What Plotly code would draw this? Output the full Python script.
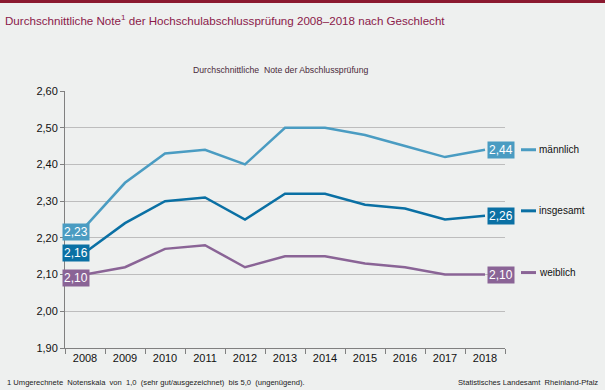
import plotly.graph_objects as go

years = ["2008", "2009", "2010", "2011", "2012", "2013", "2014", "2015", "2016", "2017", "2018"]
maennlich = [2.23, 2.35, 2.43, 2.44, 2.40, 2.50, 2.50, 2.48, 2.45, 2.42, 2.44]
insgesamt = [2.16, 2.24, 2.30, 2.31, 2.25, 2.32, 2.32, 2.29, 2.28, 2.25, 2.26]
weiblich = [2.10, 2.12, 2.17, 2.18, 2.12, 2.15, 2.15, 2.13, 2.12, 2.10, 2.10]
series_names = ["männlich", "insgesamt", "weiblich"]
y_ticks = [1.9, 2.0, 2.1, 2.2, 2.3, 2.4, 2.5, 2.6]

colors = {"männlich": "#4a9cc2", "insgesamt": "#0a70a4", "weiblich": "#8a6496"}
data = {"männlich": maennlich, "insgesamt": insgesamt, "weiblich": weiblich}
start_shift = {"männlich": -5, "insgesamt": 0, "weiblich": -3}
legend_shift = {"männlich": 0, "insgesamt": 5, "weiblich": 2}

FONT = "Liberation Sans, Arial, sans-serif"
BG = "#eef0ef"

L, R, T, B = 65, 505, 91, 348
W, H = R - L, B - T


def px(x):
    return (x - L) / W


def py(y):
    return (B - y) / H


fig = go.Figure()
for name in series_names:
    fig.add_trace(go.Scatter(x=years, y=data[name], mode="lines", name=name,
                             line=dict(color=colors[name], width=2.5), showlegend=False,
                             hoverinfo="skip"))

annotations = []
shapes = []
first_idx, last_idx = 0, len(years) - 1
for name in series_names:
    vals = data[name]
    c = colors[name]
    annotations.append(dict(x=first_idx, y=vals[0], xref="x", yref="y",
                            text=f"{vals[0]:.2f}".replace(".", ","), showarrow=False,
                            font=dict(color="white", size=12, family=FONT),
                            bgcolor=c, borderpad=1, xshift=-9, yshift=start_shift[name]))
    annotations.append(dict(x=last_idx, y=vals[-1], xref="x", yref="y",
                            text=f"{vals[-1]:.2f}".replace(".", ","), showarrow=False,
                            font=dict(color="white", size=12, family=FONT),
                            bgcolor=c, borderpad=1, xshift=16))
    # legend marker + label, positioned by the series' last value
    ly = vals[-1] + legend_shift[name] / H * 0.7
    shapes.append(dict(type="line", xref="paper", yref="y",
                       x0=px(521), x1=px(536), y0=ly, y1=ly,
                       line=dict(color=c, width=3)))
    annotations.append(dict(x=px(537), y=ly, xref="paper", yref="y",
                            text=name, showarrow=False, xanchor="left",
                            font=dict(color="#111", size=10, family=FONT)))

annotations.append(dict(x=px(3), y=py(20), xref="paper", yref="paper",
                        text="Durchschnittliche Note<sup>1</sup> der Hochschulabschlussprüfung 2008–2018 nach Geschlecht",
                        showarrow=False, xanchor="left", yanchor="middle",
                        font=dict(color="#8b1a4a", size=11.6, family=FONT)))
annotations.append(dict(x=px(280), y=py(70), xref="paper", yref="paper",
                        text="Durchschnittliche  Note der Abschlussprüfung",
                        showarrow=False, xanchor="center", yanchor="middle",
                        font=dict(color="#4a2a3a", size=8.7, family=FONT)))
annotations.append(dict(x=px(5), y=py(382), xref="paper", yref="paper",
                        text="1 Umgerechnete  Notenskala  von  1,0  (sehr gut/ausgezeichnet)  bis 5,0  (ungenügend).",
                        showarrow=False, xanchor="left", yanchor="middle",
                        font=dict(color="#222", size=7.6, family=FONT)))
annotations.append(dict(x=px(600), y=py(382), xref="paper", yref="paper",
                        text="Statistisches Landesamt  Rheinland-Pfalz",
                        showarrow=False, xanchor="right", yanchor="middle",
                        font=dict(color="#222", size=7.6, family=FONT)))

shapes.append(dict(type="rect", xref="paper", yref="paper", x0=px(-5), x1=px(610),
                   y0=py(3), y1=py(-2), fillcolor="#8b1a30", line=dict(width=0),
                   layer="above"))

fig.update_layout(
    width=605, height=390,
    margin=dict(l=L, r=605 - R, t=T, b=390 - B),
    paper_bgcolor=BG, plot_bgcolor=BG,
    separators=",.",
    font=dict(family=FONT, size=11, color="#111"),
    annotations=annotations, shapes=shapes,
    xaxis=dict(type="category", range=[-0.5, len(years) - 0.5], autorange=False,
               tickson="boundaries", ticks="outside", ticklen=5,
               tickcolor="#808080", showline=True, linecolor="#808080", linewidth=1,
               showgrid=False, tickfont=dict(size=11, color="#111"), fixedrange=True),
    yaxis=dict(range=[1.9, 2.6], autorange=False, tickvals=y_ticks, tickformat=".2f",
               ticks="outside", ticklen=4, tickcolor="#808080", showline=True,
               linecolor="#808080", linewidth=1, showgrid=True, gridcolor="#bdbdbd",
               gridwidth=1, zeroline=False, tickfont=dict(size=11, color="#111"),
               fixedrange=True),
)

fig.write_html("out.html", config={"displayModeBar": False},
               post_script="document.body.style.margin='0px';document.body.style.overflow='hidden';")
